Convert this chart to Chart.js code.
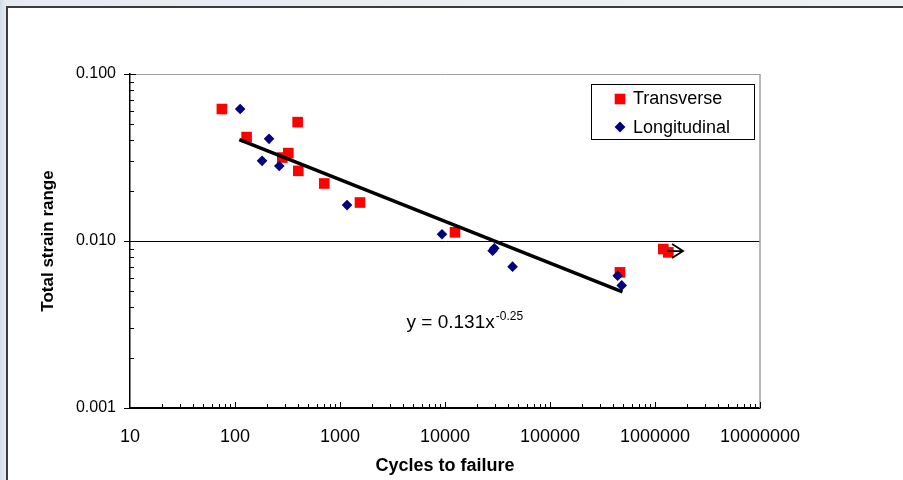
<!DOCTYPE html>
<html>
<head>
<meta charset="utf-8">
<title>Strain-life</title>
<script src="https://cdn.jsdelivr.net/npm/chart.js@4.4.1/dist/chart.umd.min.js"></script>
<style>
    html, body { margin: 0; padding: 0; }
    body {
        width: 903px; height: 480px; overflow: hidden; position: relative;
        background: linear-gradient(90deg, #d3dce6 0px, #e6ebf1 6px, #eef1f5 100%);
    }
    #panel {
        position: absolute; left: 6px; top: 6px; right: 0; bottom: 0;
        background: #fff;
        border-top: 2px solid #3c3c3c;
        border-left: 2px solid #3c3c3c;
    }
    #strainChart { position: absolute; left: 0; top: 0; }
</style>
</head>
<body>
<div id="panel"></div>
<canvas id="strainChart" width="903" height="480"></canvas>
<script>
// Data
const transverseCycles = [75, 129, 395, 322, 282, 401, 708, 1550, 12450, 464000, 1200000, 1340000];
const transverseStrain = [0.0617, 0.0419, 0.0515, 0.0336, 0.0316, 0.0263, 0.0221, 0.0170, 0.01127, 0.00649, 0.00895, 0.00855];

const longitudinalCycles = [112, 211, 181, 264, 1167, 9360, 28400, 29500, 44000, 441000, 482000];
const longitudinalStrain = [0.0617, 0.0409, 0.0302, 0.0281, 0.0164, 0.01097, 0.00875, 0.00905, 0.00702, 0.00619, 0.00542];

// Power trend line y = a * x^b, as printed on the chart
const fitA = 0.131;
const fitB = -0.25;
const fitCycles = [110, 490000];

// Run-out arrow next to the last transverse points
const arrowCycles = [1300000, 1850000];
const arrowStrain = 0.0087;

// Equation label anchor (data coords)
const eqCycles = 4300;
const eqStrain = 0.0030;

const xTicks = [10, 100, 1000, 10000, 100000, 1000000, 10000000];
const yTicks = [0.001, 0.01, 0.1];

const FONT = '"Liberation Sans", Arial, sans-serif';

function toPoints(xs, ys) {
    return xs.map((x, i) => ({ x: x, y: ys[i] }));
}

const trendPoints = fitCycles.map(x => ({ x: x, y: fitA * Math.pow(x, fitB) }));

// Ticks, plot border, legend, equation and arrow
const decorPlugin = {
    id: 'decor',
    beforeDatasetsDraw(chart) {
        const { ctx, chartArea: a, scales: { x, y } } = chart;
        ctx.save();
        // plot area right border
        ctx.strokeStyle = '#a0a0a0';
        ctx.lineWidth = 1.5;
        ctx.beginPath();
        ctx.moveTo(a.right, a.top);
        ctx.lineTo(a.right, a.bottom);
        ctx.stroke();

        ctx.strokeStyle = '#000';
        ctx.lineWidth = 1;
        ctx.beginPath();
        // x axis ticks, pointing inward
        xTicks.forEach((d, i) => {
            const px = Math.round(x.getPixelForValue(d)) + 0.5;
            if (i > 0) {
                ctx.moveTo(px, a.bottom);
                ctx.lineTo(px, a.bottom - 6);
            }
            if (i < xTicks.length - 1) {
                for (let m = 2; m <= 9; m++) {
                    const mx = Math.round(x.getPixelForValue(d * m)) + 0.5;
                    ctx.moveTo(mx, a.bottom);
                    ctx.lineTo(mx, a.bottom - 4);
                }
            }
        });
        // y axis ticks, pointing inward
        yTicks.forEach((d, i) => {
            const py = Math.round(y.getPixelForValue(d)) + 0.5;
            ctx.moveTo(a.left, py);
            ctx.lineTo(a.left + 6, py);
            if (i < yTicks.length - 1) {
                for (let m = 2; m <= 9; m++) {
                    const my = Math.round(y.getPixelForValue(d * m)) + 0.5;
                    ctx.moveTo(a.left, my);
                    ctx.lineTo(a.left + 4, my);
                }
            }
        });
        ctx.stroke();
        ctx.restore();
    },
    afterDraw(chart) {
        const { ctx, chartArea: a, scales: { x, y } } = chart;
        ctx.save();

        // run-out arrow
        const ax0 = x.getPixelForValue(arrowCycles[0]);
        const ax1 = x.getPixelForValue(arrowCycles[1]);
        const ay = y.getPixelForValue(arrowStrain);
        ctx.strokeStyle = '#000';
        ctx.lineWidth = 1.8;
        ctx.beginPath();
        ctx.moveTo(ax0, ay);
        ctx.lineTo(ax1, ay);
        ctx.moveTo(ax1 - 11, ay - 7);
        ctx.lineTo(ax1, ay);
        ctx.lineTo(ax1 - 11, ay + 7);
        ctx.stroke();

        // trend equation
        const ex = x.getPixelForValue(eqCycles);
        const ey = y.getPixelForValue(eqStrain);
        ctx.fillStyle = '#000';
        ctx.textBaseline = 'alphabetic';
        ctx.textAlign = 'left';
        ctx.font = '19px ' + FONT;
        const main = 'y = ' + fitA + 'x';
        ctx.fillText(main, ex, ey);
        const w = ctx.measureText(main).width;
        ctx.font = '12px ' + FONT;
        ctx.fillText(String(fitB), ex + w + 1, ey - 8);

        // legend box
        const lx = a.right - 169, ly = a.top + 10;
        ctx.fillStyle = '#fff';
        ctx.fillRect(lx, ly, 163, 55);
        ctx.strokeStyle = '#000';
        ctx.lineWidth = 1;
        ctx.strokeRect(lx + 0.5, ly + 0.5, 163, 55);

        const items = [chart.data.datasets[2], chart.data.datasets[1]];
        items.forEach((ds, i) => {
            const cx = lx + 29, cy = ly + 15 + i * 28;
            ctx.fillStyle = ds.backgroundColor;
            ctx.beginPath();
            if (ds.pointStyle === 'rect') {
                ctx.rect(cx - 5.3, cy - 5.3, 10.6, 10.6);
            } else {
                ctx.moveTo(cx - 5.4, cy);
                ctx.lineTo(cx, cy - 5.4);
                ctx.lineTo(cx + 5.4, cy);
                ctx.lineTo(cx, cy + 5.4);
                ctx.closePath();
            }
            ctx.fill();
            ctx.fillStyle = '#000';
            ctx.font = '18px ' + FONT;
            ctx.fillText(ds.label, lx + 42, cy + 5 + i * 0.5);
        });
        ctx.restore();
    }
};

const ctx = document.getElementById('strainChart').getContext('2d');

const strainChart = new Chart(ctx, {
    type: 'scatter',
    data: {
        datasets: [
            {
                label: 'Power fit',
                data: trendPoints,
                showLine: true,
                borderColor: '#000',
                borderWidth: 3.5,
                pointRadius: 0,
                order: 0
            },
            {
                label: 'Longitudinal',
                data: toPoints(longitudinalCycles, longitudinalStrain),
                pointStyle: 'rectRot',
                pointRadius: 5.3,
                backgroundColor: '#000080',
                pointBorderWidth: 0,
                order: 1
            },
            {
                label: 'Transverse',
                data: toPoints(transverseCycles, transverseStrain),
                pointStyle: 'rect',
                pointRadius: 7.5,
                backgroundColor: '#ff0000',
                pointBorderWidth: 0,
                order: 2
            }
        ]
    },
    options: {
        responsive: false,
        animation: false,
        devicePixelRatio: 1,
        layout: {
            padding: { left: 0, right: 143, top: 74, bottom: 0 }
        },
        plugins: {
            legend: { display: false },
            tooltip: { enabled: false }
        },
        scales: {
            x: {
                type: 'logarithmic',
                min: 10,
                max: 10000000,
                afterBuildTicks: s => { s.ticks = xTicks.map(v => ({ value: v })); },
                afterFit: s => { s.height = 72; s.paddingLeft = 0; s.paddingRight = 0; },
                ticks: {
                    autoSkip: false,
                    maxRotation: 0,
                    padding: 18,
                    color: '#000',
                    font: { family: FONT, size: 18 },
                    callback: v => String(v)
                },
                grid: { drawOnChartArea: false, drawTicks: false },
                border: { color: '#000', width: 1.5 },
                title: {
                    display: true,
                    text: 'Cycles to failure',
                    color: '#000',
                    font: { family: FONT, size: 18, weight: 'bold' },
                    padding: { top: 0, bottom: 3 }
                }
            },
            y: {
                type: 'logarithmic',
                min: 0.001,
                max: 0.1,
                afterBuildTicks: s => { s.ticks = yTicks.map(v => ({ value: v })); },
                afterFit: s => { s.width = 130; s.paddingTop = 0; s.paddingBottom = 0; },
                ticks: {
                    padding: 8,
                    color: '#000',
                    font: { family: FONT, size: 16 },
                    callback: v => Number(v).toFixed(3)
                },
                grid: {
                    color: c => (c.tick && c.tick.value === 0.1 ? '#a0a0a0' : '#000'),
                    tickColor: '#000',
                    tickLength: 6,
                    lineWidth: 1
                },
                border: { color: '#000', width: 1.5 },
                title: {
                    display: true,
                    text: 'Total strain range',
                    color: '#000',
                    font: { family: FONT, size: 17, weight: 'bold' },
                    padding: { top: 38, bottom: 0 }
                }
            }
        }
    },
    plugins: [decorPlugin]
});
</script>
</body>
</html>
